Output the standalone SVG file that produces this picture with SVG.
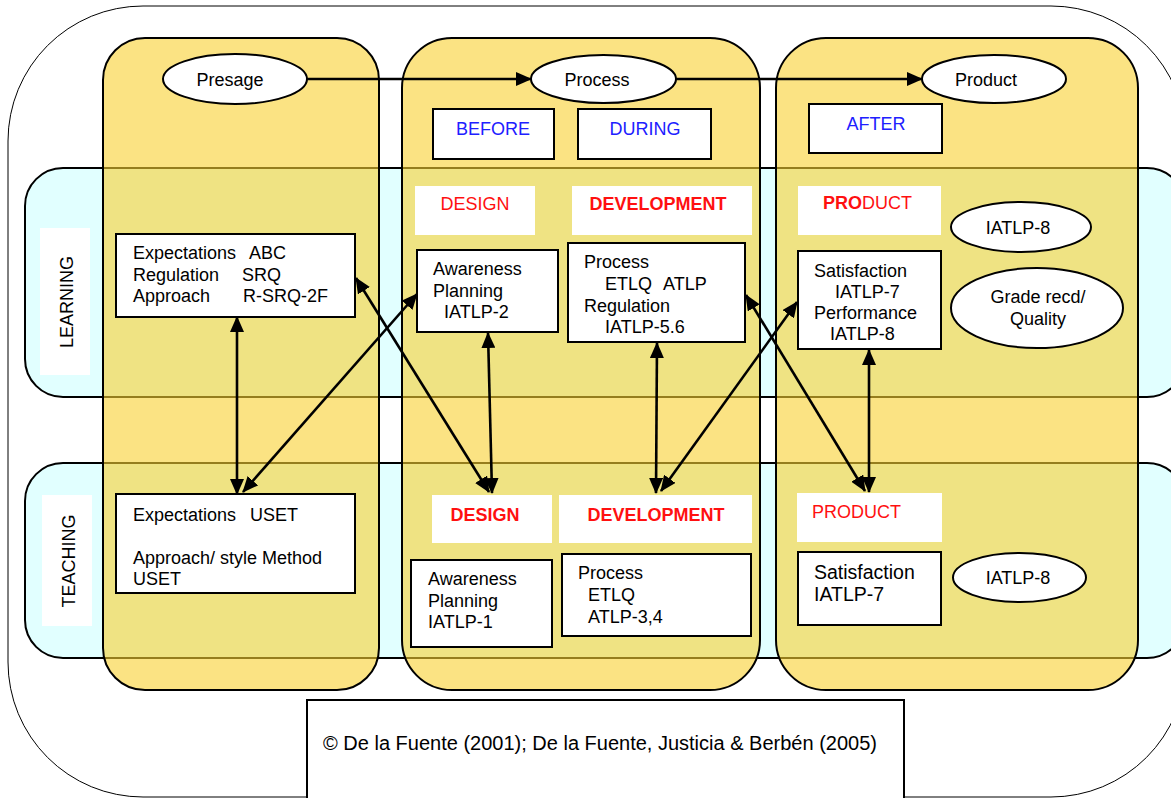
<svg xmlns="http://www.w3.org/2000/svg" width="1171" height="798" viewBox="0 0 1171 798">
<defs>
<marker id="ah" viewBox="0 0 16 14" refX="15" refY="7" markerWidth="16" markerHeight="14" markerUnits="userSpaceOnUse" orient="auto-start-reverse">
<path d="M0,0 L16,7 L0,14 z" fill="#000"/>
</marker>
</defs>
<style>
text{font-family:"Liberation Sans",Arial,sans-serif;font-size:18px;fill:#000}
.band{fill:#E1FFFF;stroke:#000;stroke-width:2}
.col{fill:#F9D030;fill-opacity:0.6;stroke:#000;stroke-width:2}
.box{fill:#fff;stroke:#000;stroke-width:2}
.lbl{fill:#fff;stroke:none}
.ell{fill:#fff;stroke:#000;stroke-width:2}
.blue{fill:#2020FF}
.red{fill:#FF1010}
.b{font-weight:bold}
.mid{text-anchor:middle}
.con{stroke:#000;stroke-width:2.6;fill:none}
</style>
<rect id="frame" x="8" y="6" width="1178" height="791" rx="135" ry="135" fill="#fff" stroke="#000" stroke-width="1"/>
<g id="band-learning">
<rect class="band" x="25" y="168" width="1160" height="229" rx="38"/>
<rect class="lbl" x="40" y="228" width="50" height="147"/>
<text class="mid" x="73" y="302" transform="rotate(-90 73 302)">LEARNING</text>
</g>
<g id="band-teaching">
<rect class="band" x="25" y="463" width="1160" height="195" rx="38"/>
<rect class="lbl" x="42" y="495" width="50" height="131"/>
<text class="mid" x="75" y="561" transform="rotate(-90 75 561)">TEACHING</text>
</g>
<g id="col-presage"><rect class="col" x="103" y="38" width="276" height="652" rx="42"/></g>
<g id="col-process"><rect class="col" x="402" y="38" width="358" height="652" rx="50"/></g>
<g id="col-product"><rect class="col" x="776" y="38" width="362" height="652" rx="50"/></g>
<g id="flow">
<line class="con" x1="307" y1="79" x2="531" y2="79" marker-end="url(#ah)"/>
<line class="con" x1="676" y1="79" x2="922" y2="79" marker-end="url(#ah)"/>
</g>
<g id="presage"><ellipse class="ell" cx="235" cy="79" rx="72" ry="25"/><text class="mid" x="230" y="86">Presage</text></g>
<g id="process"><ellipse class="ell" cx="603.5" cy="79" rx="72.5" ry="24"/><text class="mid" x="597" y="86">Process</text></g>
<g id="product"><ellipse class="ell" cx="994" cy="79" rx="72" ry="24"/><text class="mid" x="986" y="86">Product</text></g>
<g id="before"><rect class="box" x="433" y="109" width="121" height="50"/><text class="mid blue" x="493" y="135">BEFORE</text></g>
<g id="during"><rect class="box" x="578" y="109" width="133" height="50"/><text class="mid blue" x="645" y="135">DURING</text></g>
<g id="after"><rect class="box" x="809" y="104" width="133" height="49"/><text class="mid blue" x="876" y="130">AFTER</text></g>
<g id="l-design"><rect class="lbl" x="415" y="186" width="120" height="49"/><text class="mid red" x="475" y="210">DESIGN</text></g>
<g id="l-development"><rect class="lbl" x="572" y="186" width="180" height="49"/><text class="mid red b" x="658" y="210">DEVELOPMENT</text></g>
<g id="l-product"><rect class="lbl" x="798" y="186" width="143" height="49"/><text class="red" x="823" y="209"><tspan class="b">PRO</tspan>DUCT</text></g>
<g id="l-iatlp8"><ellipse class="ell" cx="1021" cy="227" rx="70" ry="25"/><text class="mid" x="1018" y="234">IATLP-8</text></g>
<g id="grade"><ellipse class="ell" cx="1037" cy="308" rx="86" ry="40"/><text class="mid" x="1038" y="303">Grade recd/</text><text class="mid" x="1038" y="325">Quality</text></g>
<g id="l-presage-box"><rect class="box" x="116" y="234" width="239" height="83"/>
<text x="133" y="259">Expectations<tspan x="249">ABC</tspan></text>
<text x="133" y="281">Regulation<tspan x="242">SRQ</tspan></text>
<text x="133" y="302">Approach<tspan x="243">R-SRQ-2F</tspan></text></g>
<g id="l-design-box"><rect class="box" x="417" y="250" width="141" height="82"/>
<text x="433" y="275">Awareness</text><text x="433" y="297">Planning</text><text x="444" y="318">IATLP-2</text></g>
<g id="l-dev-box"><rect class="box" x="568" y="243" width="177" height="99"/>
<text x="584" y="268">Process</text><text x="605" y="290">ETLQ<tspan x="663">ATLP</tspan></text><text x="584" y="312">Regulation</text><text x="605" y="333">IATLP-5.6</text></g>
<g id="l-product-box"><rect class="box" x="798" y="251" width="143" height="98"/>
<text x="814" y="277">Satisfaction</text><text x="835" y="298">IATLP-7</text><text x="814" y="319">Performance</text><text x="830" y="340">IATLP-8</text></g>
<g id="t-presage-box"><rect class="box" x="116" y="494" width="239" height="99"/>
<text x="133" y="521">Expectations<tspan x="250">USET</tspan></text>
<text x="133" y="564">Approach/ style Method</text><text x="133" y="585">USET</text></g>
<g id="t-design"><rect class="lbl" x="432" y="495" width="120" height="48"/><text class="mid red b" x="485" y="521">DESIGN</text></g>
<g id="t-development"><rect class="lbl" x="559" y="495" width="193" height="48"/><text class="mid red b" x="656" y="521">DEVELOPMENT</text></g>
<g id="t-product"><rect class="lbl" x="797" y="493" width="145" height="49"/><text class="red" x="812" y="518">PRODUCT</text></g>
<g id="t-design-box"><rect class="box" x="411" y="560" width="141" height="87"/>
<text x="428" y="585">Awareness</text><text x="428" y="607">Planning</text><text x="428" y="628">IATLP-1</text></g>
<g id="t-dev-box"><rect class="box" x="562" y="554" width="189" height="82"/>
<text x="578" y="579">Process</text><text x="588" y="601">ETLQ</text><text x="588" y="623">ATLP-3,4</text></g>
<g id="t-product-box"><rect class="box" x="798" y="552" width="143" height="73"/>
<text x="814" y="579" style="font-size:19.5px">Satisfaction</text><text x="814" y="601" style="font-size:19.5px">IATLP-7</text></g>
<g id="t-iatlp8"><ellipse class="ell" cx="1019.5" cy="577.5" rx="66.5" ry="24.5"/><text class="mid" x="1018" y="584">IATLP-8</text></g>
<g id="footer"><rect class="box" x="307" y="700" width="597" height="102"/>
<text class="mid" x="600" y="750" style="font-size:20px">© De la Fuente (2001); De la Fuente, Justicia &amp; Berbén (2005)</text></g>
<g id="connectors">
<line class="con" x1="237" y1="317" x2="237" y2="494" marker-start="url(#ah)" marker-end="url(#ah)"/>
<line class="con" x1="243" y1="492" x2="417" y2="294" marker-start="url(#ah)" marker-end="url(#ah)"/>
<line class="con" x1="356" y1="278" x2="489" y2="492" marker-start="url(#ah)" marker-end="url(#ah)"/>
<line class="con" x1="488" y1="333" x2="492" y2="493" marker-start="url(#ah)" marker-end="url(#ah)"/>
<line class="con" x1="657" y1="343" x2="656" y2="493" marker-start="url(#ah)" marker-end="url(#ah)"/>
<line class="con" x1="797" y1="302" x2="661" y2="491" marker-start="url(#ah)" marker-end="url(#ah)"/>
<line class="con" x1="746" y1="295" x2="865" y2="491" marker-start="url(#ah)" marker-end="url(#ah)"/>
<line class="con" x1="869" y1="350" x2="869" y2="492" marker-start="url(#ah)" marker-end="url(#ah)"/>
</g>
</svg>
